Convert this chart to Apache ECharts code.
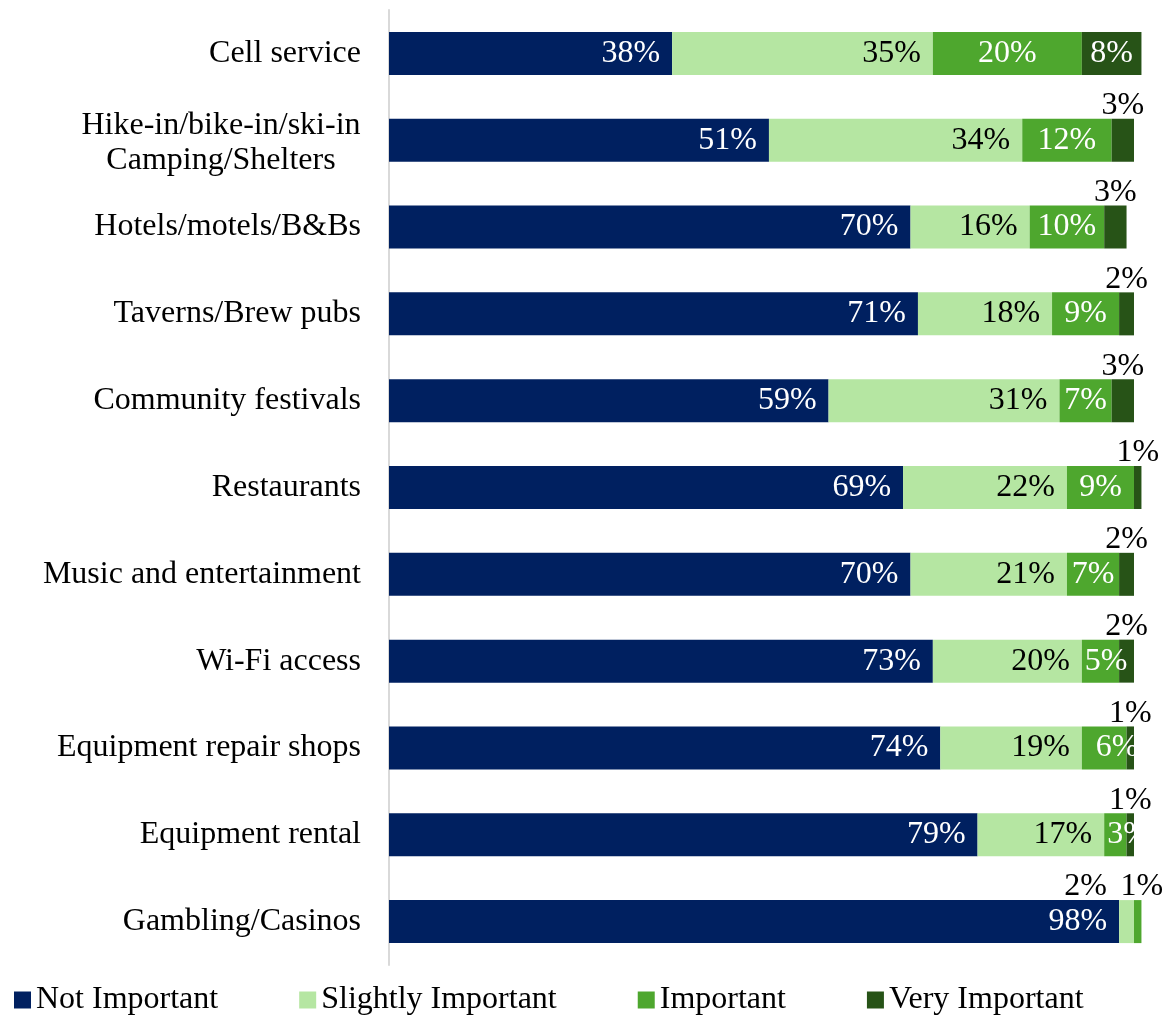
<!DOCTYPE html>
<html>
<head>
<meta charset="utf-8">
<script src="https://cdn.jsdelivr.net/npm/echarts@6/dist/echarts.min.js"></script>
<style>
  html, body { margin: 0; padding: 0; background: #ffffff; }
  #chart { width: 1166px; height: 1017px; }
</style>
</head>
<body>
<div id="chart"></div>
<script>
// Amenity categories, top to bottom
const categories = [
  'Cell service',
  'Hike-in/bike-in/ski-in\nCamping/Shelters',
  'Hotels/motels/B&Bs',
  'Taverns/Brew pubs',
  'Community festivals',
  'Restaurants',
  'Music and entertainment',
  'Wi-Fi access',
  'Equipment repair shops',
  'Equipment rental',
  'Gambling/Casinos'
];

// Share of respondents (%) for each importance level
const notImportant      = [38, 51, 70, 71, 59, 69, 70, 73, 74, 79, 98];
const slightlyImportant = [35, 34, 16, 18, 31, 22, 21, 20, 19, 17, 2];
const important         = [20, 12, 10, 9, 7, 9, 7, 5, 6, 3, 1];
const veryImportant     = [8, 3, 3, 2, 3, 1, 2, 2, 1, 1, 0];

const seriesNames = ['Not Important', 'Slightly Important', 'Important', 'Very Important'];
const colors = ['#002060', '#b5e6a2', '#4ea72e', '#275317'];

const FONT = '"Liberation Serif", "Times New Roman", serif';
const FS = 32;

function pct(p) { return p.value + '%'; }

// Segments too narrow to hold their label get it above the bar
// or pinned to the segment's left edge
function labelFor(seriesIdx, v, rowIdx) {
  if (v === 0) return { show: false };
  if (seriesIdx === 3 && v < 5) {
    return { show: true, position: 'top', color: '#000', distance: -3 };
  }
  if (rowIdx === categories.length - 1 && (seriesIdx === 1 || seriesIdx === 2)) {
    return {
      show: true, position: 'top', color: '#000', distance: -3,
      offset: seriesIdx === 1 ? [-41, 0] : [4, 0]
    };
  }
  if (seriesIdx === 2 && v < 7) {
    return { show: true, position: 'insideLeft', distance: v === 6 ? 14 : 3, color: '#fff' };
  }
  return null;
}

function build(values, idx, baseLabel) {
  return {
    name: seriesNames[idx],
    type: 'bar',
    stack: 'total',
    barWidth: 43,
    clip: false,
    itemStyle: { color: colors[idx] },
    label: Object.assign({
      show: true,
      formatter: pct,
      fontFamily: FONT,
      fontSize: FS
    }, baseLabel),
    data: values.map((v, i) => {
      const l = labelFor(idx, v, i);
      return l ? { value: v, label: l } : v;
    })
  };
}

const chart = echarts.init(document.getElementById('chart'), null, { renderer: 'canvas' });

chart.setOption({
  animation: false,
  backgroundColor: '#ffffff',
  textStyle: { fontFamily: FONT },
  grid: { left: 389, right: 32, top: 10, bottom: 52, containLabel: false },
  xAxis: {
    type: 'value',
    min: 0,
    max: 100,
    show: false
  },
  yAxis: {
    type: 'category',
    inverse: true,
    data: categories,
    axisLine: { show: true, lineStyle: { color: '#d9d9d9', width: 2 } },
    axisTick: { show: false },
    axisLabel: {
      margin: 28,
      color: '#000',
      fontFamily: FONT,
      fontSize: FS,
      lineHeight: 35,
      formatter: function (val) {
        if (val.indexOf('\n') >= 0) {
          return val.split('\n').map(s => '{c|' + s + '}').join('\n');
        }
        return val;
      },
      rich: {
        c: { width: 280, align: 'center', fontFamily: FONT, fontSize: FS, lineHeight: 35, color: '#000', padding: [5, 0, 0, 0] }
      }
    }
  },
  legend: {
    left: 14,
    top: 984,
    padding: 0,
    itemWidth: 17,
    itemHeight: 17,
    itemGap: 81,
    icon: 'rect',
    textStyle: { fontFamily: FONT, fontSize: FS, color: '#000', lineHeight: 32, padding: [0, 0, 0, 0] },
    data: seriesNames
  },
  series: [
    build(notImportant, 0, { position: 'insideRight', distance: 12, color: '#fff' }),
    build(slightlyImportant, 1, { position: 'insideRight', distance: 12, color: '#000' }),
    build(important, 2, { position: 'inside', color: '#fff' }),
    build(veryImportant, 3, { position: 'inside', color: '#fff' })
  ]
});
</script>
</body>
</html>
